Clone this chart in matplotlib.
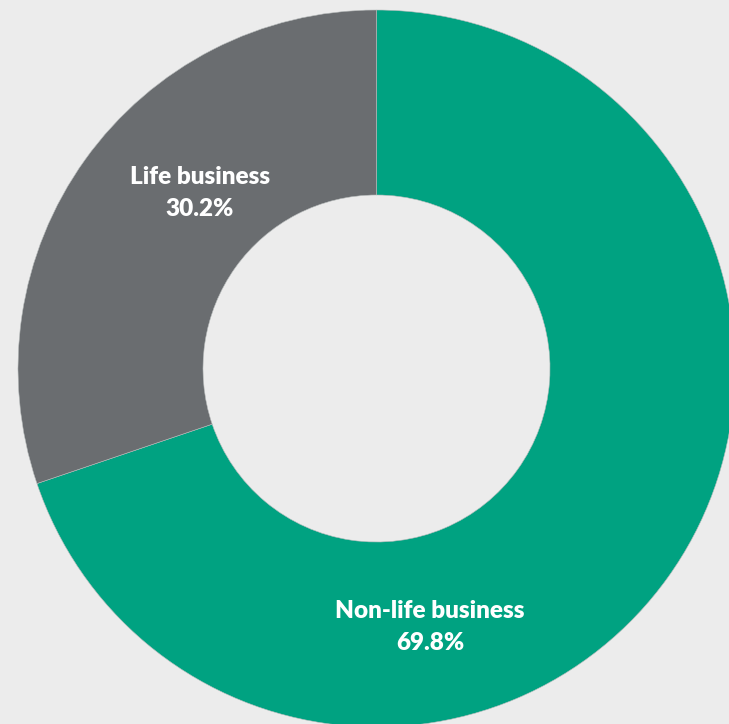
import matplotlib.pyplot as plt

labels = ['Non-life business', 'Life business']
shares = [69.8, 30.2]
colors = ['#00a281', '#6a6d70']

W, H = 729, 724
fig = plt.figure(figsize=(W / 100, H / 100), dpi=100, facecolor='#ececec')
ax = fig.add_axes([0, 0, 1, 1])

cx, cy, r = 376.5, 368.5, 358.5
ax.pie(shares, colors=colors, startangle=-90, counterclock=True, center=(cx, cy),
       radius=r, wedgeprops=dict(width=185, edgecolor='#b8bcbc', linewidth=0.4))
ax.set_xlim(0, W)
ax.set_ylim(H, 0)
ax.set_aspect('equal')
ax.axis('off')

font = dict(family=['Lato', 'DejaVu Sans'], fontweight='heavy', color='white',
            fontsize=17.5, ha='center', va='center', linespacing=1.55)
ax.text(200, 193, f'{labels[1]}\n{shares[1]}%', **font)
ax.text(430, 627, f'{labels[0]}\n{shares[0]}%', **font)

fig.savefig('out.png', dpi=100, facecolor=fig.get_facecolor())
